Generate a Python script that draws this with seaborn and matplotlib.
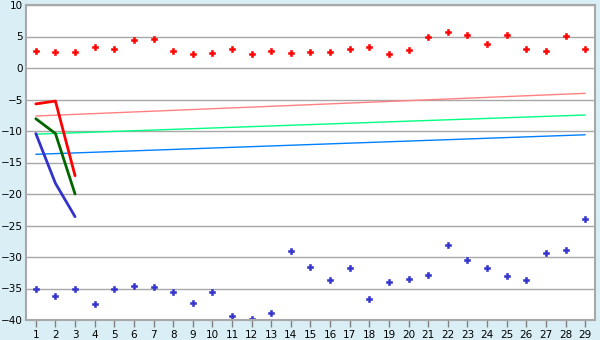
import numpy as np
import pandas as pd
import matplotlib
matplotlib.use("Agg")
import matplotlib.pyplot as plt
import seaborn as sns

x = list(range(1, 30))
red_points = [2.65, 2.5, 2.5, 3.3, 2.96, 4.4, 4.55, 2.65, 2.17, 2.33,
              2.96, 2.17, 2.65, 2.33, 2.5, 2.5, 2.96, 3.3, 2.17, 2.8,
              4.87, 5.67, 5.19, 3.76, 5.19, 2.96, 2.65, 5.03, 2.96]
blue_points = [-35.1, -36.2, -35.0, -37.5, -35.1, -34.65, -34.8, -35.6, -37.35, -35.6,
               -39.4, -39.9, -38.9, -29.1, -31.6, -33.7, -31.8, -36.7, -34.0, -33.5,
               -32.9, -28.1, -30.5, -31.8, -33.05, -33.7, -29.4, -28.9, -24.0]
short_x = [1, 2, 3]
red_line = [-5.7, -5.25, -17.1]
green_line = [-8.05, -10.4, -20.0]
blue_line = [-10.4, -18.3, -23.6]
trend_x = [1, 29]
pink_trend = [-7.62, -4.02]
lgreen_trend = [-10.5, -7.46]
lblue_trend = [-13.7, -10.6]
yticks = [-40, -35, -30, -25, -20, -15, -10, -5, 0, 5, 10]

sns.set_style("white")
plt.rcParams['font.family'] = ['DejaVu Sans']
plt.rcParams['axes.unicode_minus'] = True

fig = plt.figure(figsize=(6, 3.4), dpi=100, facecolor="#d9eff5")
ax = fig.add_axes([26/600, 1-320/340, (595-26)/600, 315/340])
ax.set_facecolor("white")

for yv in yticks:
    ax.axhline(yv, color="#a8a8a8", lw=1.0, zorder=0)

sns.lineplot(x=trend_x, y=pink_trend, color="#ff8080", lw=1.0, ax=ax)
sns.lineplot(x=trend_x, y=lgreen_trend, color="#00ff80", lw=1.0, ax=ax)
sns.lineplot(x=trend_x, y=lblue_trend, color="#0080ff", lw=1.0, ax=ax)
sns.lineplot(x=short_x, y=red_line, color="#ff0000", lw=2.0, ax=ax)
sns.lineplot(x=short_x, y=green_line, color="#006600", lw=2.0, ax=ax)
sns.lineplot(x=short_x, y=blue_line, color="#3333cc", lw=2.0, ax=ax)

sns.scatterplot(x=x, y=red_points, color="#ff0000", marker="P", s=20,
                edgecolor="#ff0000", linewidth=0.4, ax=ax)
sns.scatterplot(x=x, y=blue_points, color="#3333cc", marker="P", s=20,
                edgecolor="#3333cc", linewidth=0.4, ax=ax)

ax.set_xlim(0.5, 29.5)
ax.set_ylim(-40, 10)
ax.set_xticks(x)
ax.set_xticklabels([str(v) for v in x])
ax.set_yticks(yticks)
ax.tick_params(axis="x", direction="out", length=5, width=1, color="#808080",
               labelsize=7.5, pad=2, labelcolor="black")
ax.tick_params(axis="y", length=0, labelsize=7.5, pad=2, labelcolor="black")
ax.tick_params(bottom=True, left=False)
for s in ax.spines.values():
    s.set_color("#a8a8a8")
    s.set_linewidth(1.5)

fig.savefig("out.png", dpi=100, facecolor=fig.get_facecolor())
